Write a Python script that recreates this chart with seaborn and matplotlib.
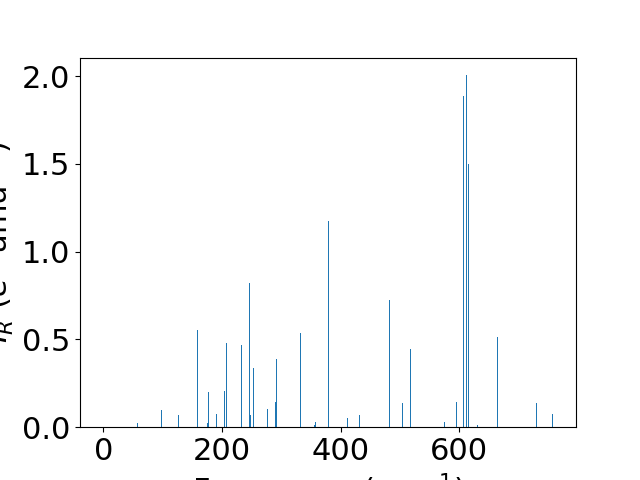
import numpy as np
import matplotlib
matplotlib.use("Agg")
import matplotlib.pyplot as plt
import seaborn as sns

# Vibrational frequencies (cm^-1) and IR intensities
frequencies = [0.0, 0.3, 0.6, 0.9, 1.2, 1.5,
               57.3, 97.8, 126.4, 158.4, 175.3, 177.0, 191.0, 204.0, 208.0,
               232.6, 246.0, 247.8, 252.8, 276.4, 290.0, 291.6, 332.7, 355.6,
               357.3, 379.9, 411.9, 431.5, 482.0, 504.0, 517.5, 574.8, 595.6,
               606.8, 611.8, 615.2, 630.4, 664.0, 730.5, 756.8]
intensities = [0.0, 0.0, 0.0, 0.0, 0.0, 0.0,
               0.023, 0.10, 0.067, 0.551, 0.023, 0.203, 0.078, 0.209, 0.481,
               0.466, 0.819, 0.072, 0.340, 0.106, 0.141, 0.386, 0.534, 0.010,
               0.030, 1.172, 0.050, 0.072, 0.727, 0.135, 0.443, 0.032, 0.141,
               1.884, 2.004, 1.497, 0.015, 0.511, 0.135, 0.078]

plt.rcParams['font.size'] = 22

fig, ax = plt.subplots(figsize=(6.4, 4.8), dpi=100)

# bar width of about 2 cm^-1 in data units (seaborn scales by min spacing)
uniq = np.unique(frequencies)
min_gap = np.min(np.diff(uniq))
sns.barplot(x=frequencies, y=intensities, native_scale=True, errorbar=None,
            color='#1f77b4', saturation=1, width=2.0 / min_gap, ax=ax)

ax.set_xlabel('Frequency (cm$^{-1}$)')
ax.set_ylabel('$I_R$ ($e^2$ amu$^{-1}$)')
ax.set_xlim(-39.3, 796.7)
ax.set_ylim(0, 2.105)
ax.set_xticks([0, 200, 400, 600])
ax.set_yticks([0.0, 0.5, 1.0, 1.5, 2.0])

fig.savefig('out.png', dpi=100)
